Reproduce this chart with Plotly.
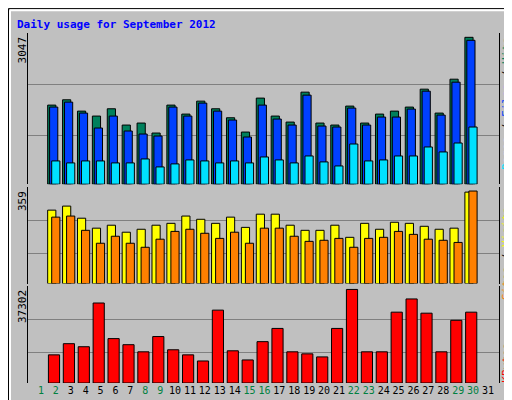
import plotly.graph_objects as go

days = list(range(2, 31))
hits = [1594,1701,1473,1373,1520,1192,1232,1031,1594,1413,1674,1520,1339,1051,1735,1373,1252,1855,1232,1192,1574,1232,1413,1473,1554,1915,1433,2116,2960]
files = [1554,1654,1433,1132,1373,1072,1011,971,1554,1373,1634,1473,1293,951,1594,1313,1192,1795,1172,1152,1534,1192,1353,1353,1514,1875,1393,2056,2900]
pages = [469,429,469,469,429,429,509,348,409,489,469,429,469,429,549,489,429,569,449,368,810,469,489,569,569,750,650,830,1152]
visits = [273,288,243,206,217,191,202,217,224,251,239,224,247,209,258,258,217,198,198,217,172,224,202,228,224,213,202,206,340]
sites = [247,251,198,150,176,150,135,165,194,202,187,168,191,150,206,206,176,157,161,168,135,168,172,194,183,165,161,153,344]
kbytes = [11217,15677,14461,31895,17705,15272,12434,18516,13245,11217,8785,29057,12839,9190,16488,21759,12434,11623,10407,21759,37302,12434,12434,28246,33517,27841,12434,25003,28246]
weekend = [1,2,8,9,15,16,22,23,29,30]
tick_labels = [f"<span style='color:{'#008040' if d in weekend else '#000000'}'>{d}</span>" for d in range(1, 32)]

fig = go.Figure()
line = dict(color='black', width=1)
def bar(y, color, off, w, ax):
    fig.add_trace(go.Bar(x=days, y=y, offset=off, width=w, marker=dict(color=color, line=line),
                         xaxis='x', yaxis=ax, showlegend=False, hoverinfo='skip'))
bar(hits, '#00805c', -0.55, 0.55, 'y')
bar(files, '#0040ff', -0.42, 0.55, 'y')
bar(pages, '#00e0ff', -0.28, 0.55, 'y')
bar(visits, '#ffff00', -0.55, 0.55, 'y2')
bar(sites, '#ff8000', -0.28, 0.55, 'y2')
bar(kbytes, '#ff0000', -0.5, 0.75, 'y3')

grid = dict(showgrid=True, gridcolor='#808080', gridwidth=1, showticklabels=False, ticks='',
            zeroline=False, showline=True, linecolor='black', mirror=True, fixedrange=True)
fig.update_layout(
    width=512, height=400, margin=dict(l=20, r=21, t=25, b=23),
    paper_bgcolor='#c0c0c0', plot_bgcolor='#c0c0c0', barmode='overlay',
    font=dict(family='DejaVu Sans Mono', size=11, color='black'),
    xaxis=dict(range=[0.13, 31.74], tickvals=list(range(1, 32)), ticktext=tick_labels, tickangle=0,
               showgrid=False, zeroline=False, ticks='', tickfont=dict(size=10), anchor='y3'),
    yaxis=dict(domain=[0.568, 1], range=[0, 3047], tickvals=[991, 2009], **grid),
    yaxis2=dict(domain=[0.284, 0.56], range=[0, 359], tickvals=[112, 236], **grid),
    yaxis3=dict(domain=[0, 0.276], range=[0, 38518], tickvals=[12028, 25408], **grid),
)
px = lambda v: (v - 20) / 471
py = lambda v: (377 - v) / 352
ann = [
    dict(x=px(7), y=py(16), text='<b>Daily usage for September 2012</b>', xanchor='left', yanchor='middle',
         font=dict(color='#0000ff', size=11)),
    dict(x=px(14), y=py(27), text='3047', textangle=-90, xanchor='center', yanchor='top'),
    dict(x=px(14), y=py(182), text='359', textangle=-90, xanchor='center', yanchor='top'),
    dict(x=px(14), y=py(282), text='37302', textangle=-90, xanchor='center', yanchor='top'),
    dict(x=px(507), y=py(27), text="<span style='color:#00e0ff'>Pages</span> / <span style='color:#0040ff'>Files</span> / <span style='color:#00805c'>Hits</span>",
         textangle=-90, xanchor='right', yanchor='top'),
    dict(x=px(507), y=py(198), text="<span style='color:#ff8000'>Sites</span> / <span style='color:#ffff00'>Visits</span>",
         textangle=-90, xanchor='right', yanchor='top'),
    dict(x=px(507), y=py(335), text="<span style='color:#ff0000'>KBytes</span>",
         textangle=-90, xanchor='right', yanchor='top'),
]
for a in ann:
    a.update(xref='paper', yref='paper', showarrow=False)
fig.update_layout(annotations=ann)
fig.update_layout(shapes=[
    dict(type='rect', xref='paper', yref='paper', x0=px(0.5), x1=px(511.5), y0=py(399.5), y1=py(0.5),
         line=dict(color='black', width=1), layer='below'),
    dict(type='line', xref='paper', yref='paper', x0=px(2), x1=px(2), y0=py(397), y1=py(2), line=dict(color='white', width=2), layer='below'),
    dict(type='line', xref='paper', yref='paper', x0=px(2), x1=px(509), y0=py(2), y1=py(2), line=dict(color='white', width=2), layer='below'),
    dict(type='line', xref='paper', yref='paper', x0=px(509), x1=px(509), y0=py(397), y1=py(2), line=dict(color='#808080', width=2), layer='below'),
    dict(type='line', xref='paper', yref='paper', x0=px(2), x1=px(509), y0=py(397), y1=py(397), line=dict(color='#808080', width=2), layer='below'),
])
fig.write_html('out.html')
